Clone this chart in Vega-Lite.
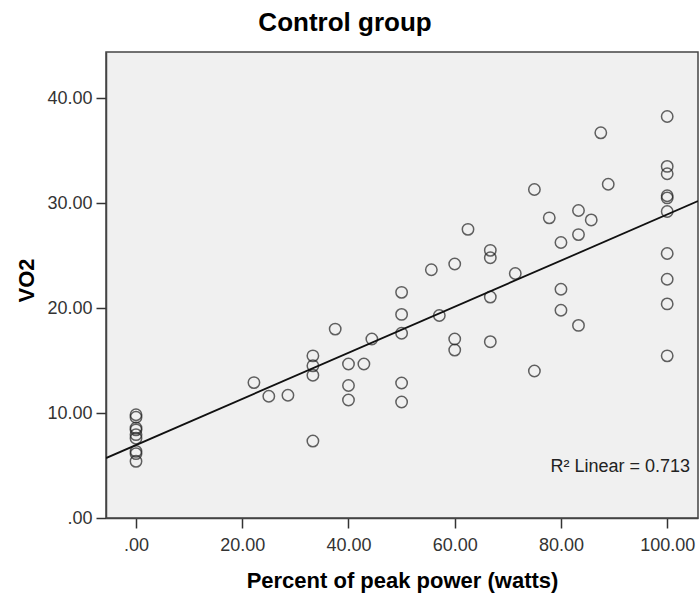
{
  "$schema": "https://vega.github.io/schema/vega-lite/v6.json",
  "width": 592,
  "height": 466,
  "autosize": "none",
  "padding": {"left": 106, "top": 52, "right": 1, "bottom": 82},
  "background": "white",
  "config": {
    "view": {"fill": "#f0f0f0", "stroke": "#444444", "strokeWidth": 1.5},
    "font": "Liberation Sans"
  },
  "title": {
    "text": "Control group",
    "font": "Liberation Sans",
    "fontSize": 26,
    "fontWeight": "bold",
    "color": "#000000",
    "anchor": "middle",
    "frame": "group",
    "dx": -57,
    "dy": 26,
    "baseline": "alphabetic",
    "offset": 21
  },
  "datasets": {
    "points": [
      {"power": 0, "vo2": 9.84}, {"power": 0, "vo2": 9.6}, {"power": 0, "vo2": 8.57}, {"power": 0, "vo2": 8.4},
      {"power": 0, "vo2": 7.94}, {"power": 0, "vo2": 7.6}, {"power": 0, "vo2": 6.35}, {"power": 0, "vo2": 6.13},
      {"power": 0, "vo2": 5.4},
      {"power": 22.2, "vo2": 12.9}, {"power": 25, "vo2": 11.6}, {"power": 28.6, "vo2": 11.7},
      {"power": 33.3, "vo2": 15.45}, {"power": 33.3, "vo2": 14.5}, {"power": 33.3, "vo2": 13.6}, {"power": 33.3, "vo2": 7.33},
      {"power": 37.5, "vo2": 18.0},
      {"power": 40, "vo2": 14.67}, {"power": 40, "vo2": 12.63}, {"power": 40, "vo2": 11.24},
      {"power": 42.9, "vo2": 14.67}, {"power": 44.4, "vo2": 17.05},
      {"power": 50, "vo2": 21.5}, {"power": 50, "vo2": 19.4}, {"power": 50, "vo2": 17.6}, {"power": 50, "vo2": 12.86}, {"power": 50, "vo2": 11.05},
      {"power": 55.6, "vo2": 23.65}, {"power": 57.1, "vo2": 19.3},
      {"power": 60, "vo2": 24.2}, {"power": 60, "vo2": 17.05}, {"power": 60, "vo2": 16.0},
      {"power": 62.5, "vo2": 27.5},
      {"power": 66.7, "vo2": 25.5}, {"power": 66.7, "vo2": 24.8}, {"power": 66.7, "vo2": 21.05}, {"power": 66.7, "vo2": 16.8},
      {"power": 71.4, "vo2": 23.3},
      {"power": 75, "vo2": 31.3}, {"power": 75, "vo2": 14.0},
      {"power": 77.8, "vo2": 28.6},
      {"power": 80, "vo2": 26.25}, {"power": 80, "vo2": 21.8}, {"power": 80, "vo2": 19.8},
      {"power": 83.3, "vo2": 29.3}, {"power": 83.3, "vo2": 27.0}, {"power": 83.3, "vo2": 18.35},
      {"power": 85.7, "vo2": 28.4}, {"power": 87.5, "vo2": 36.7}, {"power": 88.9, "vo2": 31.8},
      {"power": 100, "vo2": 38.25}, {"power": 100, "vo2": 33.5}, {"power": 100, "vo2": 32.8}, {"power": 100, "vo2": 30.7},
      {"power": 100, "vo2": 30.5}, {"power": 100, "vo2": 29.2}, {"power": 100, "vo2": 25.2}, {"power": 100, "vo2": 22.75},
      {"power": 100, "vo2": 20.4}, {"power": 100, "vo2": 15.45}
    ],
    "note": [{"power": 104.3, "vo2": 4.9, "label": "R² Linear = 0.713"}]
  },
  "layer": [
    {
      "data": {"name": "points"},
      "mark": {"type": "point", "shape": "circle", "filled": false, "size": 130, "stroke": "#222222", "strokeWidth": 1.5, "clip": true},
      "encoding": {
        "x": {
          "field": "power", "type": "quantitative",
          "scale": {"domain": [-5.65, 105.8], "nice": false, "zero": false},
          "axis": {
            "title": "Percent of peak power (watts)",
            "values": [0, 20, 40, 60, 80, 100],
            "labelExpr": "datum.value == 0 ? '.00' : format(datum.value, '.2f')",
            "grid": false,
            "domainColor": "#444444", "domainWidth": 1.5,
            "tickColor": "#333333", "tickWidth": 1.5, "tickSize": 10,
            "labelFont": "Liberation Sans", "labelFontSize": 18, "labelColor": "#333333", "labelPadding": 8,
            "titleFont": "Liberation Sans", "titleFontSize": 22, "titleFontWeight": "bold", "titleColor": "#000000",
            "titleBaseline": "alphabetic", "titleY": 69
          }
        },
        "y": {
          "field": "vo2", "type": "quantitative",
          "scale": {"domain": [0, 44.4], "nice": false, "zero": false},
          "axis": {
            "title": "VO2",
            "values": [0, 10, 20, 30, 40],
            "labelExpr": "datum.value == 0 ? '.00' : format(datum.value, '.2f')",
            "grid": false,
            "domainColor": "#444444", "domainWidth": 1.5,
            "tickColor": "#333333", "tickWidth": 1.5, "tickSize": 10,
            "labelFont": "Liberation Sans", "labelFontSize": 18, "labelColor": "#333333", "labelPadding": 4,
            "titleFont": "Liberation Sans", "titleFontSize": 22, "titleFontWeight": "bold", "titleColor": "#000000",
            "titleBaseline": "middle", "titleX": -80, "titleY": 228
          }
        }
      }
    },
    {
      "data": {"name": "points"},
      "transform": [{"regression": "vo2", "on": "power", "extent": [-5.65, 105.8]}],
      "mark": {"type": "line", "color": "#111111", "strokeWidth": 1.8, "clip": true},
      "encoding": {
        "x": {"field": "power", "type": "quantitative"},
        "y": {"field": "vo2", "type": "quantitative"}
      }
    },
    {
      "data": {"name": "note"},
      "mark": {"type": "text", "align": "right", "baseline": "middle", "font": "Liberation Sans", "fontSize": 18, "color": "#222222"},
      "encoding": {
        "x": {"field": "power", "type": "quantitative"},
        "y": {"field": "vo2", "type": "quantitative"},
        "text": {"field": "label"}
      }
    }
  ]
}
